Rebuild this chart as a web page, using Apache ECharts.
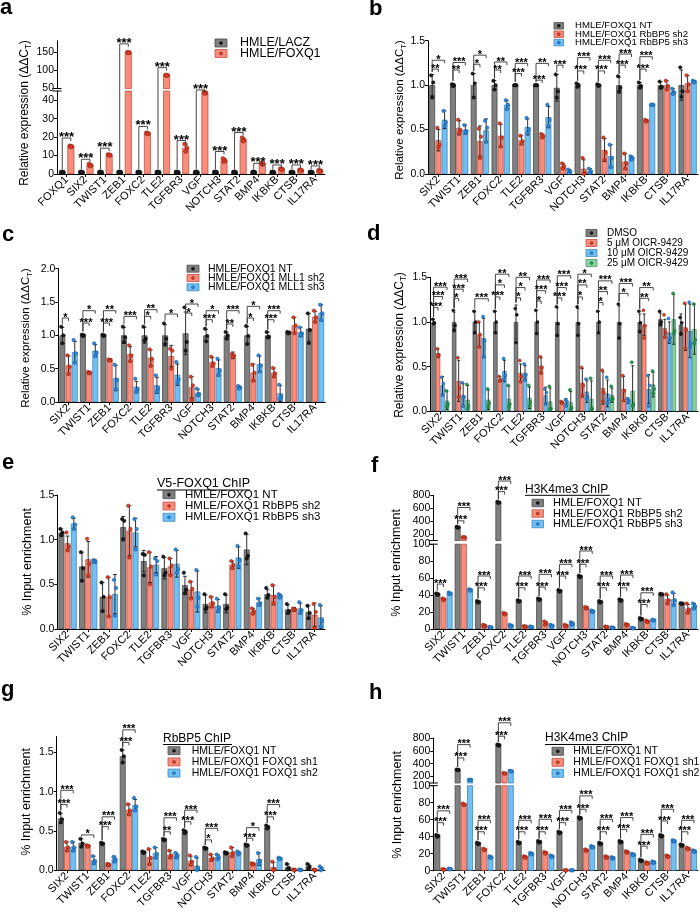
<!DOCTYPE html>
<html>
<head>
<meta charset="utf-8">
<script src="https://cdn.jsdelivr.net/npm/echarts@6.0.0/dist/echarts.min.js"></script>
<style>
html, body { margin: 0; padding: 0; background: #fff; }
#chart { width: 700px; height: 916px; }
</style>
</head>
<body>
<div id="chart"></div>
<script>
// ---------- data ----------
const genes = ['SIX2', 'TWIST1', 'ZEB1', 'FOXC2', 'TLE2', 'TGFBR3', 'VGF', 'NOTCH3', 'STAT2', 'BMP4', 'IKBKB', 'CTSB', 'IL17RA'];
const aCats = ['FOXQ1', 'SIX2', 'TWIST1', 'ZEB1', 'FOXC2', 'TLE2', 'TGFBR3', 'VGF', 'NOTCH3', 'STAT2', 'BMP4', 'IKBKB', 'CTSB', 'IL17RA'];

const aNames = ['HMLE/LACZ', 'HMLE/FOXQ1'];
const bNames = ['HMLE/FOXQ1 NT', 'HMLE/FOXQ1 RbBP5 sh2', 'HMLE/FOXQ1 RbBP5 sh3'];
const cNames = ['HMLE/FOXQ1 NT', 'HMLE/FOXQ1 MLL1 sh2', 'HMLE/FOXQ1 MLL1 sh3'];
const dNames = ['DMSO', '5 μM OICR-9429', '10 μM OICR-9429', '25 μM OICR-9429'];
const gNames = ['HMLE/FOXQ1 NT', 'HMLE/FOXQ1 FOXQ1 sh1', 'HMLE/FOXQ1 FOXQ1 sh2'];

// tick labels
const aLowTicks = [0, 10, 20, 30, 40];
const aUpTicks = [50, 100, 150];
const ratioTicks = [0, 0.5, 1, 1.5];
const cTicks = [0, 0.5, 1, 1.5, 2];
const chipLowTicks = [0, 20, 40, 60, 80, 100];
const chipUpTicks = [200, 400, 600, 800];

// a
const aLaczMean = [1, 1, 1, 1, 1, 1, 1, 1, 1, 1, 1, 1, 1, 1];
const aLaczSd = [0.08, 0.12, 0.1, 0.06, 0.09, 0.05, 0.12, 0.07, 0.1, 0.06, 0.11, 0.09, 0.07, 0.1];
const aLaczPts = [[1.08,1.0,0.92],[1.13,0.99,0.88],[1.1,1.01,0.89],[1.06,1.0,0.94],[1.09,0.99,0.92],[1.05,1.0,0.95],[1.12,1.01,0.87],[1.07,1.0,0.93],[1.1,0.98,0.92],[1.06,1.0,0.94],[1.11,1.0,0.89],[1.09,1.01,0.9],[1.07,0.99,0.94],[1.1,1.0,0.9]];
const aFoxMean = [15, 4.8, 10.3, 148, 22, 86, 14.2, 44, 7.4, 18.6, 5.6, 2.6, 2.1, 1.8];
const aFoxSd = [0.4, 0.5, 0.4, 1.2, 0.4, 1.2, 2.0, 0.5, 0.9, 0.9, 0.5, 0.3, 0.2, 0.3];
const aFoxPts = [[15.3,14.9,14.7],[5.4,4.7,4.3],[10.6,10.3,10.0],[149,148,147],[22.3,22,21.7],[87,86,85],[16.2,14.2,12.2],[44.4,44,43.6],[8.4,7.2,6.6],[19.6,18.4,17.8],[6.0,5.6,5.2],[2.9,2.6,2.3],[2.3,2.1,1.9],[2.1,1.8,1.5]];
const aBrackets = [[0,1,19.5,'***'],[1,1,8,'***'],[2,1,14,'***'],[3,1,171.6,'***'],[4,1,25.8,'***'],[5,1,106.8,'***'],[6,1,18.2,'***'],[7,1,46,'***'],[8,1,12.2,'***'],[9,1,22.5,'***'],[10,1,5.8,'***'],[11,1,4.9,'***'],[12,1,4.9,'***'],[13,1,4.4,'***']];

// b
const bNtMean = [1.00,1.00,1.00,1.00,1.00,1.00,0.97,1.00,1.00,1.00,1.00,1.00,1.00];
const bNtSd = [0.12,0.02,0.13,0.05,0.01,0.01,0.15,0.02,0.01,0.09,0.03,0.04,0.17];
const bNtPts = [[1.11,1.03,0.86],[1.01,1.00,0.99],[1.13,1.02,0.86],[1.05,1.00,0.95],[1.00,1.00,1.00],[1.00,1.00,1.00],[1.12,0.93,0.86],[1.02,1.00,0.98],[1.01,1.00,0.99],[1.10,0.97,0.93],[1.03,0.99,0.97],[1.04,0.98,0.97],[1.20,0.93,0.87]];
const bSh2Mean = [0.38,0.52,0.37,0.43,0.38,0.43,0.09,0.06,0.27,0.14,0.60,1.00,1.02];
const bSh2Sd = [0.12,0.08,0.17,0.13,0.05,0.02,0.03,0.10,0.13,0.09,0.01,0.05,0.09];
const bSh2Pts = [[0.52,0.33,0.30],[0.61,0.49,0.46],[0.51,0.42,0.18],[0.57,0.41,0.31],[0.43,0.37,0.34],[0.45,0.43,0.41],[0.12,0.09,0.06],[0.18,0.01,0.00],[0.41,0.24,0.16],[0.23,0.12,0.06],[0.61,0.60,0.59],[1.05,0.99,0.95],[1.11,1.01,0.93]];
const bSh3Mean = [0.61,0.50,0.49,0.78,0.53,0.64,0.03,0.03,0.20,0.18,0.78,0.93,1.04];
const bSh3Sd = [0.10,0.05,0.13,0.05,0.09,0.12,0.02,0.03,0.13,0.02,0.005,0.03,0.01];
const bSh3Pts = [[0.71,0.58,0.54],[0.55,0.48,0.47],[0.60,0.52,0.36],[0.83,0.78,0.73],[0.63,0.50,0.46],[0.78,0.61,0.54],[0.05,0.03,0.01],[0.06,0.03,0.01],[0.33,0.18,0.08],[0.20,0.18,0.16],[0.78,0.78,0.78],[0.96,0.92,0.90],[1.05,1.04,1.03]];
const bBrackets = [[0,1,1.18,'**'],[0,2,1.28,'*'],[1,1,1.17,'**'],[1,2,1.255,'***'],[2,1,1.235,'*'],[2,2,1.337,'*'],[3,1,1.17,'**'],[3,2,1.26,'**'],[4,1,1.13,'***'],[4,2,1.245,'***'],[5,1,1.056,'***'],[5,2,1.245,'**'],[6,1,1.225,'***'],[7,1,1.16,'***'],[7,2,1.31,'***'],[8,1,1.16,'***'],[8,2,1.28,'***'],[9,1,1.225,'***'],[9,2,1.35,'***'],[10,1,1.18,'***'],[10,2,1.32,'***']];

// c
const cNtMean = [1.00,1.00,1.00,1.00,1.00,1.00,1.03,1.00,1.00,1.00,1.00,1.04,1.10];
const cNtSd = [0.12,0.02,0.01,0.12,0.12,0.16,0.32,0.09,0.05,0.13,0.05,0.02,0.23];
const cNtPts = [[1.13,1.00,0.88],[1.01,1.00,0.99],[1.01,1.00,0.99],[1.13,0.97,0.90],[1.13,0.95,0.92],[1.18,0.95,0.87],[1.42,0.90,0.77],[1.10,0.99,0.91],[1.05,1.00,0.95],[1.14,0.99,0.87],[1.05,0.98,0.97],[1.05,1.04,1.03],[1.33,1.08,0.89]];
const cSh2Mean = [0.55,0.44,0.63,0.72,0.66,0.69,0.22,0.60,0.70,0.44,0.44,1.15,1.28];
const cSh2Sd = [0.14,0.02,0.02,0.11,0.12,0.16,0.16,0.07,0.05,0.13,0.07,0.12,0.08];
const cSh2Pts = [[0.70,0.53,0.42],[0.45,0.44,0.43],[0.64,0.63,0.62],[0.85,0.70,0.61],[0.79,0.65,0.54],[0.80,0.77,0.50],[0.38,0.25,0.03],[0.68,0.58,0.54],[0.72,0.70,0.68],[0.56,0.44,0.32],[0.51,0.43,0.38],[1.27,1.15,1.03],[1.37,1.27,1.20]];
const cSh3Mean = [0.75,0.77,0.36,0.23,0.25,0.41,0.14,0.51,0.22,0.57,0.13,1.05,1.34];
const cSh3Sd = [0.16,0.09,0.19,0.08,0.12,0.16,0.05,0.12,0.02,0.12,0.12,0.07,0.12];
const cSh3Pts = [[0.93,0.73,0.59],[0.88,0.74,0.69],[0.56,0.33,0.19],[0.35,0.19,0.15],[0.40,0.20,0.15],[0.60,0.34,0.29],[0.20,0.12,0.10],[0.65,0.47,0.41],[0.24,0.22,0.20],[0.70,0.55,0.46],[0.26,0.08,0.05],[1.12,1.03,1.00],[1.46,1.33,1.23]];
const cBrackets = [[0,1,1.26,'*'],[1,1,1.185,'***'],[1,2,1.37,'*'],[2,1,1.185,'***'],[2,2,1.37,'**'],[3,2,1.285,'***'],[4,1,1.285,'*'],[4,2,1.385,'**'],[5,2,1.32,'*'],[6,1,1.335,'*'],[6,2,1.47,'*'],[7,1,1.235,'***'],[7,2,1.37,'*'],[8,1,1.17,'**'],[8,2,1.37,'***'],[9,1,1.26,'*'],[9,2,1.435,'*'],[10,1,1.235,'***'],[10,2,1.37,'***']];

// d
const dDmsoMean = [1.00,1.00,1.00,1.00,1.00,1.00,1.00,1.00,1.00,1.00,1.00,1.03,0.97];
const dDmsoSd = [0.03,0.11,0.12,0.12,0.19,0.13,0.16,0.15,0.12,0.18,0.09,0.07,0.12];
const dDmsoPts = [[1.03,0.99,0.98],[1.13,0.96,0.91],[1.12,1.00,0.88],[1.12,1.00,0.88],[1.15,1.08,0.77],[1.13,1.00,0.87],[1.17,0.98,0.85],[1.17,0.98,0.85],[1.12,1.00,0.88],[1.20,0.98,0.82],[1.12,0.99,0.89],[1.12,1.00,0.97],[1.05,0.99,0.87]];
const d5Mean = [0.65,0.34,0.86,0.36,0.43,0.51,0.10,0.32,0.26,0.25,0.97,0.93,0.94];
const d5Sd = [0.05,0.23,0.14,0.03,0.10,0.09,0.01,0.16,0.18,0.14,0.12,0.10,0.26];
const d5Pts = [[0.70,0.63,0.62],[0.60,0.26,0.16],[1.00,0.86,0.72],[0.39,0.35,0.34],[0.57,0.39,0.33],[0.61,0.49,0.43],[0.11,0.10,0.09],[0.49,0.29,0.18],[0.46,0.21,0.11],[0.40,0.23,0.12],[1.13,0.96,0.82],[1.08,0.88,0.83],[1.21,0.91,0.70]];
const d10Mean = [0.29,0.18,0.82,0.45,0.43,0.18,0.10,0.22,0.20,0.12,0.25,0.88,0.90];
const d10Sd = [0.10,0.13,0.22,0.12,0.08,0.09,0.04,0.12,0.15,0.03,0.16,0.12,0.30];
const d10Pts = [[0.38,0.31,0.18],[0.32,0.16,0.06],[1.06,0.79,0.61],[0.59,0.40,0.36],[0.53,0.41,0.35],[0.25,0.21,0.08],[0.13,0.11,0.06],[0.36,0.16,0.14],[0.38,0.13,0.09],[0.14,0.12,0.10],[0.40,0.29,0.06],[1.04,0.82,0.78],[1.22,0.76,0.72]];
const d25Mean = [0.12,0.13,0.13,0.14,0.15,0.11,0.10,0.14,0.18,0.23,0.30,1.03,0.92];
const d25Sd = [0.10,0.16,0.11,0.14,0.12,0.15,0.12,0.20,0.08,0.28,0.14,0.28,0.28];
const d25Pts = [[0.23,0.08,0.05],[0.30,0.06,0.03],[0.25,0.09,0.05],[0.29,0.08,0.05],[0.29,0.10,0.06],[0.28,0.03,0.02],[0.24,0.04,0.02],[0.37,0.03,0.02],[0.28,0.14,0.12],[0.55,0.08,0.06],[0.45,0.25,0.20],[1.32,0.90,0.87],[1.20,0.80,0.76]];
const dBrackets = [[0,1,1.16,'***'],[0,2,1.285,'***'],[0,3,1.39,'***'],[1,1,1.265,'*'],[1,2,1.367,'***'],[1,3,1.48,'***'],[2,3,1.26,'***'],[3,1,1.28,'***'],[3,2,1.415,'*'],[3,3,1.535,'**'],[4,1,1.27,'*'],[4,2,1.385,'*'],[4,3,1.5,'**'],[5,1,1.235,'*'],[5,2,1.35,'***'],[5,3,1.47,'***'],[6,1,1.27,'***'],[6,2,1.385,'***'],[6,3,1.517,'***'],[7,1,1.28,'*'],[7,2,1.415,'**'],[7,3,1.535,'*'],[8,1,1.217,'*'],[8,2,1.34,'**'],[8,3,1.46,'***'],[9,2,1.32,'*'],[9,3,1.43,'***'],[10,2,1.265,'**'],[10,3,1.385,'**']];

// e
const eNtMean = [1.08,0.70,0.36,1.14,0.76,0.68,0.49,0.28,0.28,0.89,0.39,0.22,0.19];
const eNtSd = [0.04,0.16,0.16,0.12,0.12,0.12,0.10,0.10,0.10,0.17,0.05,0.05,0.07];
const eNtPts = [[1.12,1.08,1.05],[0.86,0.68,0.54],[0.52,0.36,0.20],[1.23,1.21,1.00],[0.84,0.83,0.60],[0.81,0.63,0.60],[0.63,0.44,0.40],[0.39,0.24,0.22],[0.39,0.24,0.22],[1.07,0.82,0.79],[0.46,0.38,0.35],[0.28,0.20,0.18],[0.26,0.18,0.12]];
const eSh2Mean = [0.96,0.78,0.36,1.10,0.69,0.70,0.44,0.30,0.72,0.20,0.38,0.22,0.16];
const eSh2Sd = [0.08,0.20,0.22,0.28,0.17,0.09,0.09,0.06,0.04,0.03,0.11,0.02,0.13];
const eSh2Pts = [[1.08,0.92,0.88],[1.01,0.73,0.60],[0.58,0.36,0.14],[1.38,1.12,0.80],[0.86,0.70,0.50],[0.79,0.71,0.60],[0.53,0.45,0.34],[0.36,0.29,0.25],[0.76,0.72,0.68],[0.23,0.20,0.17],[0.49,0.36,0.29],[0.23,0.22,0.21],[0.28,0.19,0.01]];
const eSh3Mean = [1.18,0.76,0.39,1.08,0.72,0.73,0.42,0.26,0.80,0.30,0.37,0.23,0.13];
const eSh3Sd = [0.06,0.02,0.22,0.16,0.09,0.15,0.23,0.07,0.12,0.04,0.02,0.06,0.13];
const eSh3Pts = [[1.25,1.17,1.12],[0.77,0.76,0.75],[0.55,0.46,0.15],[1.23,1.12,0.89],[0.79,0.76,0.61],[0.89,0.67,0.63],[0.66,0.35,0.25],[0.34,0.24,0.20],[0.93,0.77,0.70],[0.34,0.29,0.27],[0.39,0.37,0.35],[0.30,0.21,0.18],[0.27,0.09,0.03]];
const eBrackets = [];

// f
const fNtMean = [41,305,32,690,33,35,45,62,32,34,12,41,30];
const fNtSd = [1,8,1,10,1,1,1,1,1,1,1,0.5,0.5];
const fNtPts = [[42,41,40],[312,305,298],[33,32,31],[700,690,680],[34,33,32],[36,35,34],[46,45,44],[63,62,61],[33,32,31],[35,34,33],[13,12,11],[41.5,41,40.5],[30.5,30,29.5]];
const fSh2Mean = [35,150,4,18,3,7,4,25,2.5,5,9,35,24];
const fSh2Sd = [1,3,1,1,0.5,2,1,1,0.5,1,1,5,5];
const fSh2Pts = [[36,35,34],[153,150,147],[5,4,3],[19,18,17],[3.5,3,2.5],[9,7,5],[5,4,3],[26,25,24],[3,2.5,2],[6,5,4],[10,9,8],[41,34,30],[30,23,19]];
const fSh3Mean = [42,46,2,4,2.5,4,6.5,21,1.5,1,10.5,35,27];
const fSh3Sd = [1,1,0.5,1,0.5,1,1.5,1,0.5,0.5,0.5,7,3];
const fSh3Pts = [[43,42,41],[47,46,45],[2.5,2,1.5],[5,4,3],[3,2.5,2],[5,4,3],[8,6.5,5],[22,21,20],[2,1.5,1],[1.5,1,0.5],[11,10.5,10],[43,34,28],[30,27,24]];
const fBrackets = [[0,1,53,'***'],[1,1,405,'***'],[1,2,611,'***'],[2,1,48.6,'***'],[2,2,62.5,'***'],[3,1,857,'***'],[3,2,1021,'***'],[4,1,48.6,'***'],[4,2,62.5,'***'],[5,1,49.4,'***'],[5,2,64.4,'***'],[6,1,62.5,'***'],[6,2,76.3,'***'],[7,1,76.3,'***'],[7,2,92,'***'],[8,1,48.6,'***'],[8,2,62.5,'***'],[9,1,48.6,'***'],[9,2,63.6,'***'],[10,1,28.9,'***'],[10,2,42.7,'***']];

// g
const gNtMean = [0.66,0.35,0.34,1.45,0.23,0.39,0.49,0.28,0.22,0.32,0.55,0.04,0.05];
const gNtSd = [0.06,0.05,0.01,0.08,0.01,0.01,0.02,0.01,0.01,0.01,0.02,0.04,0.03];
const gNtPts = [[0.73,0.65,0.61],[0.40,0.34,0.30],[0.35,0.34,0.33],[1.53,1.45,1.37],[0.24,0.23,0.22],[0.40,0.39,0.38],[0.51,0.49,0.47],[0.29,0.28,0.27],[0.23,0.22,0.21],[0.33,0.32,0.31],[0.57,0.55,0.53],[0.08,0.03,0.01],[0.08,0.05,0.02]];
const gSh1Mean = [0.30,0.31,0.07,0.77,0.17,0.20,0.12,0.16,0.23,0.08,0.04,0.01,0.01];
const gSh1Sd = [0.06,0.01,0.02,0.07,0.10,0.05,0.06,0.04,0.06,0.01,0.06,0.01,0.005];
const gSh1Pts = [[0.36,0.29,0.25],[0.32,0.31,0.30],[0.08,0.07,0.06],[0.84,0.76,0.71],[0.27,0.16,0.08],[0.25,0.19,0.16],[0.19,0.11,0.07],[0.20,0.15,0.13],[0.29,0.22,0.18],[0.09,0.08,0.07],[0.11,0.01,0.00],[0.01,0.005,0.00],[0.01,0.005,0.00]];
const gSh2Mean = [0.30,0.13,0.14,0.83,0.22,0.19,0.06,0.17,0.22,0.14,0.15,0.01,0.02];
const gSh2Sd = [0.06,0.05,0.04,0.07,0.07,0.03,0.10,0.03,0.02,0.08,0.01,0.005,0.02];
const gSh2Pts = [[0.36,0.29,0.25],[0.18,0.12,0.09],[0.17,0.14,0.11],[0.92,0.81,0.76],[0.29,0.21,0.16],[0.22,0.19,0.16],[0.17,0.02,0.00],[0.20,0.17,0.14],[0.24,0.22,0.20],[0.22,0.12,0.08],[0.16,0.15,0.14],[0.01,0.005,0.00],[0.05,0.02,0.00]];
const gBrackets = [[0,1,0.836,'***'],[0,2,1.017,'***'],[1,2,0.45,'*'],[2,1,0.555,'***'],[2,2,0.68,'***'],[3,1,1.626,'***'],[3,2,1.786,'***'],[5,1,0.49,'**'],[5,2,0.668,'***'],[6,1,0.618,'***'],[6,2,0.765,'***'],[7,1,0.387,'*'],[7,2,0.534,'***'],[9,1,0.408,'***'],[9,2,0.542,'*'],[10,1,0.68,'***'],[10,2,0.836,'***']];

// h
const hNtMean = [41,305,32,690,33,34,45,62,32,34,12,41,30];
const hNtSd = [1,6,1,10,1,1,1,1,1,1,1,1,1];
const hNtPts = [[42,41,40],[311,305,299],[33,32,31],[700,690,680],[34,33,32],[35,34,33],[46,45,44],[63,62,61],[33,32,31],[35,34,33],[13,12,11],[42,41,40],[31,30,29]];
const hSh1Mean = [1.5,78,25,250,16,21,0.5,24,16,22,9,17,26];
const hSh1Sd = [0.5,1,1,5,1,1,0.2,1,1,1,1,1,1];
const hSh1Pts = [[2,1.5,1],[79,78,77],[26,25,24],[255,250,245],[17,16,15],[22,21,20],[0.7,0.5,0.3],[25,24,23],[17,16,15],[23,22,21],[10,9,8],[18,17,16],[27,26,25]];
const hSh2Mean = [2,150,16,285,20,17,0.5,28,15,19,10,35,23];
const hSh2Sd = [0.5,3,1,5,1,1,0.2,1,1,1,1,1,1];
const hSh2Pts = [[2.5,2,1.5],[153,150,147],[17,16,15],[290,285,280],[21,20,19],[18,17,16],[0.7,0.5,0.3],[29,28,27],[16,15,14],[20,19,18],[11,10,9],[36,35,34],[24,23,22]];
const hBrackets = [[0,1,56.5,'***'],[0,2,70.4,'***'],[1,1,490,'***'],[1,2,697,'***'],[2,1,45.8,'***'],[2,2,59.3,'***'],[3,1,828,'***'],[3,2,1036,'***'],[4,1,45.8,'***'],[4,2,59.3,'***'],[5,1,45.8,'***'],[5,2,60.5,'***'],[6,1,56.5,'***'],[6,2,71,'***'],[7,1,72.3,'***'],[7,2,88,'***'],[8,1,45.8,'***'],[8,2,60.5,'***'],[9,1,48.6,'***'],[9,2,62.5,'***'],[10,1,28.9,'***'],[10,2,42.7,'***'],[11,1,58.5,'***'],[11,2,72.3,'***'],[12,1,45.8,'***'],[12,2,59.3,'***']];

// ---------- styles / layout ----------
const FONT = '"Liberation Sans", Arial, Helvetica, sans-serif';
const S = {
  gray:  { fill: '#808080', edge: '#4a4a4a', dot: '#1c1c1c', dotEdge: '#000000' },
  red:   { fill: '#f88d7d', edge: '#c4503f', dot: '#e43c24', dotEdge: '#7a1a0c' },
  blue:  { fill: '#72bff2', edge: '#3d88c4', dot: '#2a8be0', dotEdge: '#0b4d8a' },
  green: { fill: '#8dd2a6', edge: '#4d9a6c', dot: '#22a050', dotEdge: '#0c5a28' }
};
const REL = '{n|Relative expression (ΔΔC}{s|T}{n|)}';
const PIE = '% Input enrichment';
const fmt1 = v => v.toFixed(1);

function grp(names, i, mean, sd, pts, sty) {
  return { name: names[i], mean: mean, sd: sd, pts: pts, sty: S[sty] };
}

const panels = [
  { letter: 'a', lx: 0, ly: 7.5, cats: aCats, left: 57, width: 268, bw: 7, gap: 1.6, r: 2, starFs: 13, fmt: null,
    groups: [grp(aNames, 0, aLaczMean, aLaczSd, aLaczPts, 'gray'), grp(aNames, 1, aFoxMean, aFoxSd, aFoxPts, 'red')],
    segs: [{ top: 91, height: 83, min: 0, max: 45, ticks: aLowTicks }, { top: 40.8, height: 47.7, min: 50, max: 180, ticks: aUpTicks }],
    brackets: aBrackets, yTitle: { text: REL, x: 25, y: 113, fs: 12 },
    legend: { x: 215, y: 43, dy: 10.5, bw: 12, bh: 8, tx: 240, fs: 12.5 } },
  { letter: 'b', lx: 369, ly: 9, cats: genes, left: 428, width: 270, bw: 5.9, gap: 0.3, r: 1.7, starFs: 11, fmt: fmt1,
    groups: [grp(bNames, 0, bNtMean, bNtSd, bNtPts, 'gray'), grp(bNames, 1, bSh2Mean, bSh2Sd, bSh2Pts, 'red'), grp(bNames, 2, bSh3Mean, bSh3Sd, bSh3Pts, 'blue')],
    segs: [{ top: 40.7, height: 133.3, min: 0, max: 1.5, ticks: ratioTicks }],
    brackets: bBrackets, yTitle: { text: REL, x: 400, y: 110, fs: 11.5 },
    legend: { x: 554, y: 25.8, dy: 8.4, bw: 9.5, bh: 6.5, tx: 575, fs: 9.6 } },
  { letter: 'c', lx: 2, ly: 235.3, cats: genes, left: 58.3, width: 267, bw: 5.9, gap: 0.3, r: 1.7, starFs: 11, fmt: fmt1,
    groups: [grp(cNames, 0, cNtMean, cNtSd, cNtPts, 'gray'), grp(cNames, 1, cSh2Mean, cSh2Sd, cSh2Pts, 'red'), grp(cNames, 2, cSh3Mean, cSh3Sd, cSh3Pts, 'blue')],
    segs: [{ top: 268.7, height: 133.3, min: 0, max: 2, ticks: cTicks }],
    brackets: cBrackets, yTitle: { text: REL, x: 26, y: 338, fs: 11.5 },
    legend: { x: 187, y: 268.7, dy: 9.3, bw: 12, bh: 7, tx: 208, fs: 10.5 } },
  { letter: 'd', lx: 367, ly: 233.6, cats: genes, left: 430, width: 268, bw: 4.4, gap: 0.1, r: 1.5, starFs: 11, fmt: fmt1,
    groups: [grp(dNames, 0, dDmsoMean, dDmsoSd, dDmsoPts, 'gray'), grp(dNames, 1, d5Mean, d5Sd, d5Pts, 'red'), grp(dNames, 2, d10Mean, d10Sd, d10Pts, 'blue'), grp(dNames, 3, d25Mean, d25Sd, d25Pts, 'green')],
    segs: [{ top: 277.3, height: 134, min: 0, max: 1.5, ticks: ratioTicks }],
    brackets: dBrackets, yTitle: { text: REL, x: 400, y: 345, fs: 12 },
    legend: { x: 586, y: 233, dy: 10, bw: 11, bh: 7, tx: 607, fs: 10 } },
  { letter: 'e', lx: 2, ly: 463.3, cats: genes, left: 57.3, width: 267.7, bw: 5.9, gap: 0.3, r: 1.7, starFs: 11, fmt: fmt1,
    groups: [grp(bNames, 0, eNtMean, eNtSd, eNtPts, 'gray'), grp(bNames, 1, eSh2Mean, eSh2Sd, eSh2Pts, 'red'), grp(bNames, 2, eSh3Mean, eSh3Sd, eSh3Pts, 'blue')],
    segs: [{ top: 495, height: 134, min: 0, max: 1.5, ticks: ratioTicks }],
    brackets: eBrackets, yTitle: { text: PIE, x: 28, y: 562, fs: 12.5 },
    legend: { x: 163, y: 494.7, dy: 11.3, bw: 12, bh: 8, tx: 185, fs: 11.5, title: { text: 'V5-FOXQ1 ChIP', x: 157, y: 483.5, x2: 250, uy: 490, fs: 12.5 } } },
  { letter: 'f', lx: 371, ly: 466.3, cats: genes, left: 433.3, width: 264.7, bw: 5.9, gap: 0.3, r: 1.7, starFs: 11, fmt: null,
    groups: [grp(bNames, 0, fNtMean, fNtSd, fNtPts, 'gray'), grp(bNames, 1, fSh2Mean, fSh2Sd, fSh2Pts, 'red'), grp(bNames, 2, fSh3Mean, fSh3Sd, fSh3Pts, 'blue')],
    segs: [{ top: 544.2, height: 84.8, min: 0, max: 100, ticks: chipLowTicks }, { top: 495.3, height: 45.2, min: 100, max: 800, ticks: chipUpTicks }],
    brackets: fBrackets, yTitle: { text: PIE, x: 397, y: 563, fs: 12.5 },
    legend: { x: 532, y: 503, dy: 10.5, bw: 11.5, bh: 7.5, tx: 553, fs: 11, title: { text: 'H3K4me3 ChIP', x: 525, y: 489.5, x2: 610, uy: 495.3, fs: 12 } } },
  { letter: 'g', lx: 1, ly: 690.3, cats: genes, left: 56.7, width: 268.3, bw: 5.9, gap: 0.3, r: 1.7, starFs: 11, fmt: fmt1,
    groups: [grp(gNames, 0, gNtMean, gNtSd, gNtPts, 'gray'), grp(gNames, 1, gSh1Mean, gSh1Sd, gSh1Pts, 'red'), grp(gNames, 2, gSh2Mean, gSh2Sd, gSh2Pts, 'blue')],
    segs: [{ top: 736.6, height: 133.7, min: 0, max: 1.7, ticks: ratioTicks }],
    brackets: gBrackets, yTitle: { text: PIE, x: 27, y: 802, fs: 12.5 },
    legend: { x: 168, y: 750.7, dy: 11.2, bw: 12, bh: 8, tx: 191.7, fs: 10.5, title: { text: 'RbBP5 ChIP', x: 163, y: 738.5, x2: 232, uy: 744.5, fs: 12 } } },
  { letter: 'h', lx: 369, ly: 693, cats: genes, left: 433.3, width: 264.7, bw: 5.9, gap: 0.3, r: 1.7, starFs: 11, fmt: null,
    groups: [grp(gNames, 0, hNtMean, hNtSd, hNtPts, 'gray'), grp(gNames, 1, hSh1Mean, hSh1Sd, hSh1Pts, 'red'), grp(gNames, 2, hSh2Mean, hSh2Sd, hSh2Pts, 'blue')],
    segs: [{ top: 785.7, height: 85, min: 0, max: 100, ticks: chipLowTicks }, { top: 738, height: 45, min: 100, max: 800, ticks: chipUpTicks }],
    brackets: hBrackets, yTitle: { text: PIE, x: 398, y: 805, fs: 12.5 },
    legend: { x: 552, y: 751.3, dy: 11, bw: 11.5, bh: 8, tx: 573.3, fs: 10.5, title: { text: 'H3K4me3 ChIP', x: 545, y: 738, x2: 632, uy: 744.5, fs: 12 } } }
];

// ---------- build option ----------
const grids = [], xAxes = [], yAxes = [], series = [];

function errSeries(gi, seg, g, off, capW) {
  return {
    type: 'custom', xAxisIndex: gi, yAxisIndex: gi, z: 4, silent: true,
    encode: { x: 0, y: 1 },
    data: g.mean.map((m, i) => [i, m, g.sd[i]]),
    renderItem: function (params, api) {
      const c = api.value(0), m = api.value(1), e = api.value(2);
      const hi = m + e, lo = m - e;
      if (lo > seg.max || hi < seg.min) return;
      const top = api.coord([c, Math.min(hi, seg.max)]);
      const bot = api.coord([c, Math.max(lo, seg.min)]);
      const x = top[0] + off;
      const st = { stroke: '#1a1a1a', lineWidth: 0.9 };
      const ch = [{ type: 'line', shape: { x1: x, y1: top[1], x2: x, y2: bot[1] }, style: st }];
      if (hi <= seg.max) ch.push({ type: 'line', shape: { x1: x - capW / 2, y1: top[1], x2: x + capW / 2, y2: top[1] }, style: st });
      if (lo >= seg.min) ch.push({ type: 'line', shape: { x1: x - capW / 2, y1: bot[1], x2: x + capW / 2, y2: bot[1] }, style: st });
      return { type: 'group', children: ch };
    }
  };
}

function dotSeries(gi, seg, g, off, r, jit) {
  const data = [];
  g.pts.forEach((arr, i) => arr.forEach((v, j) => data.push([i, v, j])));
  return {
    type: 'custom', xAxisIndex: gi, yAxisIndex: gi, z: 5, silent: true,
    encode: { x: 0, y: 1 },
    data: data,
    renderItem: function (params, api) {
      const v = api.value(1);
      if (v < seg.min || v > seg.max) return;
      const p = api.coord([api.value(0), v]);
      return { type: 'circle', shape: { cx: p[0] + off + jit[api.value(2)], cy: p[1], r: r },
        style: { fill: g.sty.dot, stroke: g.sty.dotEdge, lineWidth: 0.5 } };
    }
  };
}

panels.forEach(p => {
  const n = p.groups.length;
  const total = n * p.bw + (n - 1) * p.gap;
  p.offs = p.groups.map((g, k) => -total / 2 + k * (p.bw + p.gap) + p.bw / 2);
  const jit = p.bw < 5 ? [-0.8, 0.8, 0] : [-1.1, 1.1, 0];
  p.gi = [];
  p.segs.forEach((seg, si) => {
    const gi = grids.length;
    p.gi.push(gi);
    grids.push({ left: p.left, top: seg.top, width: p.width, height: seg.height, outerBoundsMode: 'none' });
    xAxes.push({
      type: 'category', gridIndex: gi, data: p.cats, show: si === 0,
      axisLine: { show: true, lineStyle: { color: '#000', width: 1 } },
      axisTick: { show: true, alignWithLabel: true, length: 3, lineStyle: { color: '#000' } },
      axisLabel: { interval: 0, rotate: 45, margin: 4, color: '#000', fontSize: 11, fontFamily: FONT },
      splitLine: { show: false }
    });
    yAxes.push({
      type: 'value', gridIndex: gi, min: seg.min, max: seg.max,
      axisLine: { show: true, lineStyle: { color: '#000', width: 1 } },
      axisTick: { show: true, length: 3, lineStyle: { color: '#000' }, customValues: seg.ticks },
      axisLabel: { show: true, margin: 3, color: '#000', fontSize: 10.5, fontFamily: FONT, customValues: seg.ticks,
        formatter: p.fmt || (v => String(v)) },
      splitLine: { show: false }
    });
    p.groups.forEach((g, k) => {
      series.push({
        type: 'bar', xAxisIndex: gi, yAxisIndex: gi, data: g.mean, barWidth: p.bw,
        barGap: (p.gap / p.bw * 100) + '%', clip: true, silent: true, z: 2,
        itemStyle: { color: g.sty.fill, borderColor: g.sty.edge, borderWidth: 0.8 }
      });
      series.push(errSeries(gi, seg, g, p.offs[k], p.bw * 0.65));
      series.push(dotSeries(gi, seg, g, p.offs[k], p.r, jit));
    });
  });
});

const chart = echarts.init(document.getElementById('chart'), null, { renderer: 'canvas' });
chart.setOption({
  backgroundColor: '#fff',
  animation: false,
  textStyle: { fontFamily: FONT },
  grid: grids, xAxis: xAxes, yAxis: yAxes, series: series
});

// ---------- annotations (titles, legends, brackets) ----------
function toPx(p, c, k, v) {
  const si = (p.segs.length > 1 && v > p.segs[0].max) ? 1 : 0;
  const pt = chart.convertToPixel({ gridIndex: p.gi[si] }, [c, v]);
  return [pt[0] + p.offs[k], pt[1]];
}

const gfx = [];
panels.forEach(p => {
  gfx.push({ type: 'text', x: p.lx, y: p.ly, z: 100, silent: true,
    style: { text: p.letter, fontFamily: FONT, fontSize: 22, fontWeight: 'bold', fill: '#000', verticalAlign: 'middle' } });

  const yt = p.yTitle;
  gfx.push({ type: 'text', x: yt.x, y: yt.y, rotation: Math.PI / 2, z: 100, silent: true,
    style: { text: yt.text, fontFamily: FONT, fontSize: yt.fs, fill: '#000', align: 'center', verticalAlign: 'middle',
      rich: { n: { fontFamily: FONT, fontSize: yt.fs, fill: '#000', lineHeight: 16 },
              s: { fontFamily: FONT, fontSize: yt.fs * 0.68, fill: '#000', lineHeight: 8, verticalAlign: 'bottom' } } } });

  const L = p.legend;
  if (L.title) {
    gfx.push({ type: 'text', x: L.title.x, y: L.title.y, z: 100, silent: true,
      style: { text: L.title.text, fontFamily: FONT, fontSize: L.title.fs, fill: '#000', verticalAlign: 'middle' } });
    gfx.push({ type: 'line', z: 100, silent: true, shape: { x1: L.title.x, y1: L.title.uy, x2: L.title.x2, y2: L.title.uy },
      style: { stroke: '#000', lineWidth: 1 } });
  }
  p.groups.forEach((g, k) => {
    const cy = L.y + k * L.dy;
    gfx.push({ type: 'rect', z: 100, silent: true, shape: { x: L.x, y: cy - L.bh / 2, width: L.bw, height: L.bh },
      style: { fill: g.sty.fill, stroke: g.sty.edge, lineWidth: 0.8 } });
    gfx.push({ type: 'circle', z: 101, silent: true, shape: { cx: L.x + L.bw / 2, cy: cy, r: 1.5 },
      style: { fill: g.sty.dot, stroke: g.sty.dotEdge, lineWidth: 0.5 } });
    gfx.push({ type: 'text', x: L.tx, y: cy, z: 100, silent: true,
      style: { text: g.name, fontFamily: FONT, fontSize: L.fs, fill: '#000', verticalAlign: 'middle' } });
  });

  // axis break marks
  if (p.segs.length > 1) {
    const ys = [p.segs[0].top, p.segs[1].top + p.segs[1].height];
    ys.forEach(y => gfx.push({ type: 'line', z: 100, silent: true,
      shape: { x1: p.left - 4.5, y1: y, x2: p.left + 4.5, y2: y }, style: { stroke: '#000', lineWidth: 1 } }));
  }

  // significance brackets
  const g0 = p.groups[0];
  p.brackets.forEach(b => {
    const c = b[0], k = b[1], yv = b[2], lab = b[3];
    const A = toPx(p, c, 0, yv), B = toPx(p, c, k, yv);
    const refTop = Math.max(g0.mean[c] + g0.sd[c], Math.max.apply(null, g0.pts[c]));
    const yRef = toPx(p, c, 0, refTop)[1] - 2.5;
    gfx.push({ type: 'polyline', z: 100, silent: true,
      shape: { points: [[A[0], yRef], [A[0], A[1]], [B[0], A[1]], [B[0], A[1] + 3]] },
      style: { stroke: '#333', lineWidth: 0.9, fill: null } });
    gfx.push({ type: 'text', x: (A[0] + B[0]) / 2, y: A[1] - 0.5, z: 101, silent: true,
      style: { text: lab, fontFamily: FONT, fontSize: p.starFs, fontWeight: 'bold', fill: '#000', align: 'center', verticalAlign: 'middle' } });
  });
});

chart.setOption({ graphic: gfx });
</script>
</body>
</html>
